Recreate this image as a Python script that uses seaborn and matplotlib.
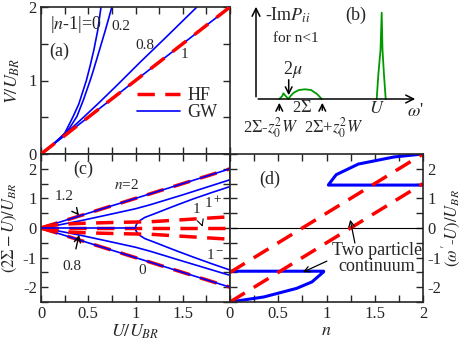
import numpy as np
import pandas as pd
import matplotlib
matplotlib.use("Agg")
from matplotlib import pyplot as plt
import seaborn as sns

# ---- panel (a): V/U_BR vs U/U_BR ----
a_U_n0 = [0, 0.1, 0.2, 0.25, 0.34, 0.4, 0.48, 0.52, 0.56, 0.6, 0.635]
a_V_n0 = [0, 0.1, 0.22, 0.28, 0.51, 0.68, 1.0, 1.2, 1.42, 1.68, 2.0]
a_U_n02 = [0, 0.1, 0.2, 0.3, 0.38, 0.45, 0.52, 0.55, 0.62, 0.68, 0.75]
a_V_n02 = [0, 0.1, 0.21, 0.35, 0.51, 0.74, 1.0, 1.12, 1.42, 1.68, 2.0]
a_U_n08 = [0, 0.2, 0.4, 0.6, 0.8, 1.05, 1.3, 1.65]
a_V_n08 = [0, 0.21, 0.44, 0.68, 0.93, 1.25, 1.56, 2.0]
a_U_n1 = [0, 1, 2]
a_V_n1 = [0, 1, 2]
a_U_hf = [0, 2]
a_V_hf = [0, 2]

# ---- panel (b): schematic spectrum -Im P_ii (arbitrary units) ----
b_w = [23.3, 26.3, 27.3, 32.3, 34.5, 38, 43, 49, 55, 61, 65.7,
       120.7, 122.3, 124.5, 125.7, 126.5, 128, 129.7]
b_P = [0, 3, 5.7, 0, 3, 6.5, 9, 9.7, 9, 5, 0,
       0, 24, 49, 86.3, 49, 24, 0]

# ---- panel (c): (2Sigma-U)/U_BR vs U/U_BR ----
c_U_line = [0, 2]
c_n2_up = [0, 2]
c_n2_dn = [0, -2]
c_U_12 = [0, 0.2, 0.41, 0.7, 1.0, 1.15, 1.5, 2.0]
c_y_12 = [0, 0.11, 0.24, 0.44, 0.65, 0.78, 1.12, 1.63]
c_y_08 = [0, -0.11, -0.24, -0.44, -0.65, -0.78, -1.12, -1.6]
c_U_1pm = [1, 1.005, 1.02, 1.05, 1.1, 1.2, 1.4, 1.6, 1.8, 2.0]
c_y_1p = [0, 0.09, 0.17, 0.26, 0.36, 0.48, 0.73, 0.97, 1.19, 1.4]
c_y_1m = [0, -0.09, -0.17, -0.26, -0.36, -0.48, -0.73, -0.97, -1.2, -1.42]
c_U_n1 = [0, 1]
c_y_n1 = [0, 0]
c_U_hf1 = [0, 0.1, 0.25, 0.45, 0.8, 1.15, 1.6, 2.0]
c_y_hf1p = [0, 0.09, 0.13, 0.16, 0.19, 0.21, 0.3, 0.38]
c_y_hf1m = [0, -0.09, -0.13, -0.16, -0.19, -0.21, -0.3, -0.38]
c_y_hf1 = [0, 0, 0, 0, 0, 0, 0, 0]

# ---- panel (d): (omega'-U)/U_BR vs n ----
d_n_lo = [0, 0.35, 0.69, 0.85, 0.97, 0.97, 0]
d_w_lo = [-2.5, -2.33, -2.04, -1.82, -1.48, -1.46, -1.46]
d_n_hi = [2, 1.7, 1.33, 1.1, 1.02, 1.02, 2]
d_w_hi = [2.5, 2.4, 2.16, 1.8, 1.46, 1.45, 1.45]
d_n_hf = [0, 2]
d_w_hf1 = [-1.5, 2.5]
d_w_hf2 = [-2.5, 1.5]

sns.set_style("ticks")
plt.rcParams['font.family'] = ['Liberation Serif', 'DejaVu Serif']
plt.rcParams['mathtext.fontset'] = 'stix'
plt.rcParams['axes.unicode_minus'] = False
plt.rcParams['axes.linewidth'] = 1.2

RED = '#ff0000'
BLUE = '#0000ff'
GREEN = '#009a00'
FS = 13     # axis labels, big texts
FT = 12     # tick labels
FA = 11     # small annotations


def curve(ax, x, y, color, lw, dashed=False, label=None, z=2):
    df = pd.DataFrame({'x': x, 'y': y})
    line = sns.lineplot(data=df, x='x', y='y', ax=ax, color=color, linewidth=lw,
                        sort=False, estimator=None, label=label, zorder=z)
    if dashed:
        line.lines[-1].set_dashes((5, 3))
    return line


def style_ticks(ax):
    ax.tick_params(which='both', direction='in', top=True, right=True,
                   labelsize=FT, width=1, pad=3)
    ax.tick_params(which='major', length=5)
    ax.tick_params(which='minor', length=5)
    ax.set_xlabel('')
    ax.set_ylabel('')


fig = plt.figure(figsize=(4.63, 3.41), dpi=100)
W, H = 463.0, 341.0
ax_a = fig.add_axes([41 / W, 1 - 154 / H, 189 / W, 147 / H])
ax_c = fig.add_axes([41 / W, 1 - 302 / H, 189 / W, 148 / H])
ax_d = fig.add_axes([230 / W, 1 - 302 / H, 193 / W, 148 / H])
ax_b = fig.add_axes([230 / W, 1 - 154 / H, 233 / W, 154 / H])

# ---------------- (a) ----------------
curve(ax_a, a_U_n0, a_V_n0, BLUE, 1.2)
curve(ax_a, a_U_n02, a_V_n02, BLUE, 1.2)
curve(ax_a, a_U_n08, a_V_n08, BLUE, 1.2)
curve(ax_a, a_U_hf, a_V_hf, RED, 2.5, dashed=True, label='HF', z=3)
curve(ax_a, a_U_n1, a_V_n1, BLUE, 1.2, label='GW')
ax_a.set_xlim(0, 2)
ax_a.set_ylim(0, 2)
ax_a.set_xticks([0, 0.5, 1, 1.5, 2])
ax_a.set_xticks([0.25, 0.75, 1.25, 1.75], minor=True)
ax_a.set_xticklabels([])
ax_a.set_yticks([0, 1, 2])
ax_a.set_yticks([0.5, 1.5], minor=True)
style_ticks(ax_a)
ax_a.set_ylabel(r'$V/U_{BR}$', fontsize=FS, labelpad=5)
leg = ax_a.legend(loc='lower right', bbox_to_anchor=(0.99, 0.15), frameon=False,
                  fontsize=FS, handlelength=2.4, labelspacing=0.0,
                  borderaxespad=0.2, handletextpad=0.4)
ax_a.text(0.37, 1.76, '|' + r'$n$' + '-1|=0', fontsize=FA + 2, ha='center', va='center')
ax_a.text(0.84, 1.73, '0.2', fontsize=FA, ha='center', va='center')
ax_a.text(1.1, 1.48, '0.8', fontsize=FA, ha='center', va='center')
ax_a.text(1.52, 1.35, '1', fontsize=FA, ha='center', va='center')
ax_a.text(0.19, 1.39, '(a)', fontsize=FS, ha='center', va='center')

# ---------------- (b) ----------------
ax_b.set_xlim(-26, 207)
ax_b.set_ylim(-55, 99)
ax_b.axis('off')
curve(ax_b, b_w[:11], b_P[:11], GREEN, 1.3)
curve(ax_b, b_w[11:], b_P[11:], GREEN, 1.3)
ax_b.annotate('', xy=(0, 95), xytext=(0, -0.6),
              arrowprops=dict(arrowstyle='->', lw=1.1, color='black', mutation_scale=14))
ax_b.annotate('', xy=(162, 0), xytext=(-0.6, 0),
              arrowprops=dict(arrowstyle='->', lw=1.1, color='black', mutation_scale=14))
ax_b.text(9, 84, r'-Im$P_{ii}$', fontsize=FS, va='center')
ax_b.text(17, 61, 'for n<1', fontsize=FA, ha='left', va='center')
ax_b.text(89, 84, '(b)', fontsize=FS, va='center')
ax_b.text(37, 29, r'2$\mu$', fontsize=FS, ha='center', va='center')
ax_b.annotate('', xy=(32.7, 1), xytext=(32.7, 22),
              arrowprops=dict(arrowstyle='->', lw=1.1, color='black', mutation_scale=12))
ax_b.text(45.7, -9.3, r'2$\Sigma$', fontsize=FT, ha='center', va='center')
ax_b.text(121.3, -9.3, r'$U$', fontsize=FS, ha='center', va='center')
ax_b.text(159, -12.7, r"$\omega$'", fontsize=FS, ha='center', va='center')
ax_b.annotate('', xy=(23.3, -1), xytext=(23.3, -14),
              arrowprops=dict(arrowstyle='->', lw=1.1, color='black', mutation_scale=12))
ax_b.annotate('', xy=(66.3, -1), xytext=(66.3, -14),
              arrowprops=dict(arrowstyle='->', lw=1.1, color='black', mutation_scale=12))
ax_b.text(14.7, -28.7, r'2$\Sigma$-$z_0^2W$', fontsize=FT, ha='center', va='center')
ax_b.text(77.3, -28.7, r'2$\Sigma$+$z_0^2W$', fontsize=FT, ha='center', va='center')

# ---------------- (c) ----------------
curve(ax_c, c_U_line, c_n2_up, BLUE, 1.2)
curve(ax_c, c_U_line, c_n2_dn, BLUE, 1.2)
curve(ax_c, c_U_12, c_y_12, BLUE, 1.2)
curve(ax_c, c_U_12, c_y_08, BLUE, 1.2)
curve(ax_c, c_U_1pm, c_y_1p, BLUE, 1.2)
curve(ax_c, c_U_1pm, c_y_1m, BLUE, 1.2)
curve(ax_c, c_U_line, c_n2_up, RED, 2.5, dashed=True, z=1.5)
curve(ax_c, c_U_line, c_n2_dn, RED, 2.5, dashed=True, z=1.5)
curve(ax_c, c_U_hf1, c_y_hf1p, RED, 2.5, dashed=True)
curve(ax_c, c_U_hf1, c_y_hf1m, RED, 2.5, dashed=True)
curve(ax_c, c_U_hf1, c_y_hf1, RED, 2.5, dashed=True)
curve(ax_c, c_U_n1, c_y_n1, BLUE, 1.2, z=3)
ax_c.set_xlim(0, 2)
ax_c.set_ylim(-2.5, 2.5)
ax_c.set_xticks([0, 0.5, 1, 1.5, 2])
ax_c.set_xticklabels(['0', '0.5', '1', '1.5', ''])
ax_c.set_xticks([0.25, 0.75, 1.25, 1.75], minor=True)
ax_c.set_yticks([-2, -1, 0, 1, 2])
ax_c.set_yticks([-2.5, -1.5, -0.5, 0.5, 1.5, 2.5], minor=True)
style_ticks(ax_c)
ax_c.set_xlabel(r'$U/U_{BR}$', fontsize=FS, labelpad=0)
ax_c.set_ylabel(r'$(2\Sigma - U)/U_{BR}$', fontsize=FS - 1, labelpad=3)
ax_c.text(0.45, 1.97, '(c)', fontsize=FS, ha='center', va='center')
ax_c.text(0.9, 1.46, r'$n$=2', fontsize=FA, ha='center', va='center')
ax_c.text(1.07, -1.42, '0', fontsize=FA, ha='center', va='center')
ax_c.text(1.82, 0.84, r'1$^+$', fontsize=FA, ha='center', va='center')
ax_c.text(1.84, -0.92, r'1$^-$', fontsize=FA, ha='center', va='center')
ax_c.annotate('1.2', xy=(0.42, 0.35), xytext=(0.245, 1.06), fontsize=FA,
              ha='center', va='center',
              arrowprops=dict(arrowstyle='->', lw=1, color='black', shrinkA=6))
ax_c.annotate('0.8', xy=(0.41, -0.14), xytext=(0.325, -1.31), fontsize=FA,
              ha='center', va='center',
              arrowprops=dict(arrowstyle='->', lw=1, color='black', shrinkA=6))
ax_c.annotate('1', xy=(1.71, 0.04), xytext=(1.65, 0.61), fontsize=FA,
              ha='center', va='center',
              arrowprops=dict(arrowstyle='->', lw=0.8, color='black', shrinkA=4))

# ---------------- (d) ----------------
ax_d.axhline(0, color='black', lw=0.8, zorder=1)
curve(ax_d, d_n_lo, d_w_lo, BLUE, 2.2)
curve(ax_d, d_n_hi, d_w_hi, BLUE, 2.2)
curve(ax_d, d_n_hf, d_w_hf1, RED, 2.5, dashed=True)
curve(ax_d, d_n_hf, d_w_hf2, RED, 2.5, dashed=True)
ax_d.set_xlim(0, 2)
ax_d.set_ylim(-2.5, 2.5)
ax_d.set_xticks([0, 0.5, 1, 1.5, 2])
ax_d.set_xticklabels(['0', '0.5', '1', '1.5', '2'])
ax_d.set_xticks([0.25, 0.75, 1.25, 1.75], minor=True)
ax_d.set_yticks([-2, -1, 0, 1, 2])
ax_d.set_yticks([-2.5, -1.5, -0.5, 0.5, 1.5, 2.5], minor=True)
style_ticks(ax_d)
ax_d.tick_params(which='both', labelleft=False, labelright=True, left=True)
ax_d.yaxis.set_label_position('right')
ax_d.set_xlabel(r'$n$', fontsize=FS, labelpad=0)
ax_d.set_ylabel(r"$(\omega'$-$U)/U_{BR}$", fontsize=FS - 1, labelpad=0)
ax_d.text(0.41, 1.63, '(d)', fontsize=FS, ha='center', va='center')
ax_d.text(1.52, -1.02, 'Two particle\ncontinuum', fontsize=FS, ha='center',
          va='center', linespacing=0.9)
ax_d.annotate('', xy=(1.24, 0.37), xytext=(1.3, -0.6),
              arrowprops=dict(arrowstyle='->', lw=0.9, color='black'))
ax_d.annotate('', xy=(0.73, -1.53), xytext=(1.03, -1.08),
              arrowprops=dict(arrowstyle='->', lw=0.9, color='black'))

fig.savefig('out.png', dpi=100)
